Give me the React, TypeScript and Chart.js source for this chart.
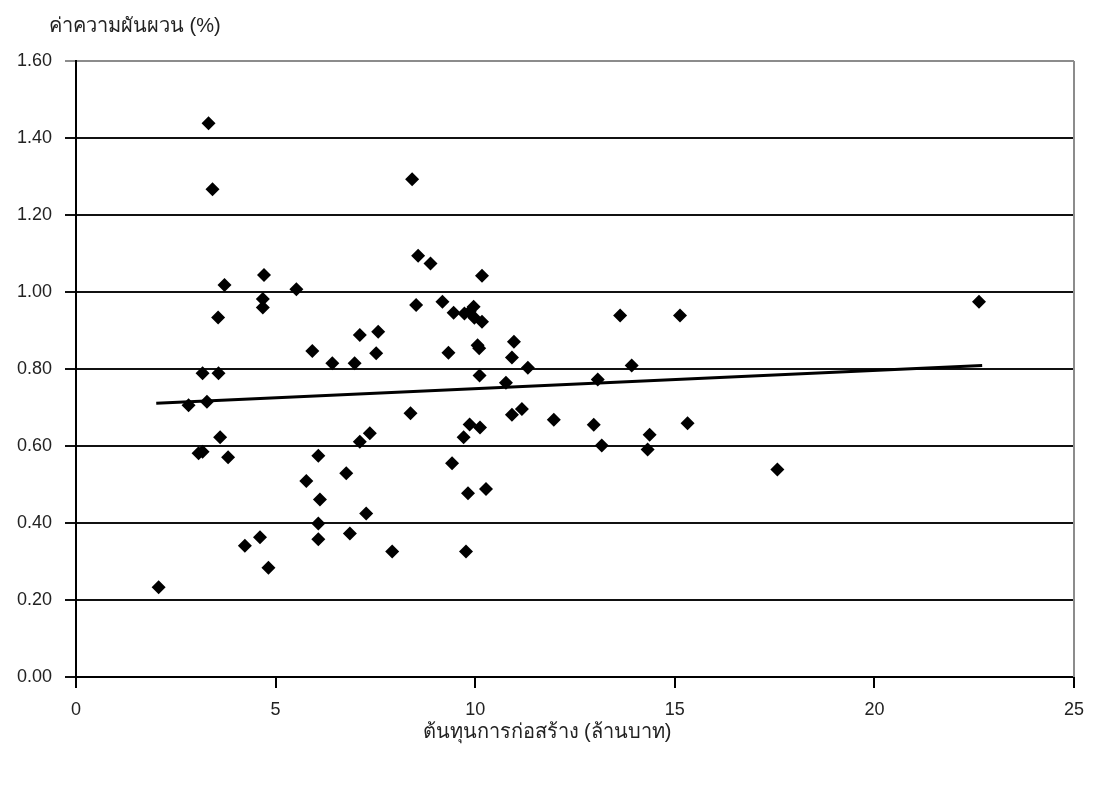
import React, { useEffect, useRef } from "react";
import { Chart, registerables } from "chart.js";

Chart.register(...registerables);

// Construction cost (million baht) for each project
const costMillionBaht: number[] = [
  2.07, 2.82, 3.07, 3.17, 3.17, 3.28, 3.32, 3.42, 3.56, 3.57,
  3.61, 3.72, 3.81, 4.23, 4.61, 4.68, 4.68, 4.71, 4.82, 5.52,
  5.77, 5.92, 6.07, 6.11, 6.07, 6.07, 6.42, 6.77, 6.86, 6.98,
  7.11, 7.11, 7.27, 7.36, 7.52, 7.57, 7.92, 8.38, 8.42, 8.52,
  8.57, 8.88, 9.18, 9.33, 9.42, 9.46, 9.71, 9.77, 9.73, 9.82,
  9.86, 9.86, 9.96, 9.98, 10.06, 10.1, 10.11, 10.12, 10.17, 10.17,
  10.27, 10.77, 10.92, 10.92, 10.97, 11.17, 11.32, 11.97, 12.97, 13.07,
  13.17, 13.63, 13.92, 14.32, 14.37, 15.13, 15.32, 17.57, 22.62,
];

// Measured variability (%) for the same projects
const variabilityPct: number[] = [
  0.233, 0.706, 0.581, 0.585, 0.789, 0.715, 1.438, 1.267, 0.934, 0.789,
  0.623, 1.018, 0.571, 0.341, 0.363, 0.982, 0.960, 1.044, 0.284, 1.007,
  0.509, 0.847, 0.575, 0.461, 0.399, 0.358, 0.815, 0.529, 0.373, 0.815,
  0.888, 0.611, 0.425, 0.633, 0.841, 0.897, 0.326, 0.685, 1.293, 0.966,
  1.094, 1.074, 0.975, 0.842, 0.555, 0.946, 0.623, 0.326, 0.944, 0.477,
  0.949, 0.656, 0.962, 0.933, 0.862, 0.854, 0.783, 0.648, 0.923, 1.042,
  0.488, 0.764, 0.830, 0.681, 0.871, 0.696, 0.803, 0.668, 0.655, 0.773,
  0.601, 0.939, 0.809, 0.591, 0.629, 0.939, 0.659, 0.539, 0.975,
];

// Linear trend line end points
const trendX: number[] = [2.01, 22.7];
const trendY: number[] = [0.711, 0.809];

const yTicks: number[] = [0, 0.2, 0.4, 0.6, 0.8, 1.0, 1.2, 1.4, 1.6];
const xTicks: number[] = [0, 5, 10, 15, 20, 25];

const yTitle = "ค่าความผันผวน (%)";
const xTitle = "ต้นทุนการก่อสร้าง (ล้านบาท)";

const FONT = "'Liberation Sans', 'DejaVu Sans', 'Noto Sans', sans-serif";

const titlesPlugin = {
  id: "axisTitles",
  afterDraw(chart: any) {
    const { ctx, chartArea } = chart;
    ctx.save();
    // plot-area frame on the right side
    ctx.strokeStyle = "#8c8c8c";
    ctx.lineWidth = 2;
    ctx.beginPath();
    ctx.moveTo(chartArea.right, chartArea.top);
    ctx.lineTo(chartArea.right, chartArea.bottom);
    ctx.stroke();

    ctx.fillStyle = "#222";
    ctx.font = `20px ${FONT}`;
    ctx.textBaseline = "middle";
    ctx.textAlign = "left";
    ctx.fillText(yTitle, 49, 26);
    ctx.textAlign = "center";
    ctx.fillText(xTitle, 547, 732);
    ctx.restore();
  },
};

export default function App() {
  const canvasRef = useRef<HTMLCanvasElement | null>(null);

  useEffect(() => {
    if (!canvasRef.current) return;
    const points = costMillionBaht.map((x, i) => ({ x, y: variabilityPct[i] }));
    const trend = trendX.map((x, i) => ({ x, y: trendY[i] }));

    const chart = new Chart(canvasRef.current, {
      type: "scatter",
      data: {
        datasets: [
          {
            type: "line",
            data: trend,
            borderColor: "#000",
            borderWidth: 3,
            pointRadius: 0,
            fill: false,
            order: 0,
          } as any,
          {
            data: points,
            pointStyle: "rectRot",
            pointRadius: 7,
            backgroundColor: "#000",
            borderColor: "#000",
            borderWidth: 0,
            order: 1,
          },
        ],
      },
      options: {
        animation: false,
        responsive: false,
        layout: { padding: { left: 0, right: 22, top: 61, bottom: 0 } },
        plugins: {
          legend: { display: false },
          tooltip: { enabled: false },
        },
        scales: {
          x: {
            type: "linear",
            min: 0,
            max: 25,
            afterFit: (s: any) => {
              s.height = 110;
            },
            afterBuildTicks: (s: any) => {
              s.ticks = xTicks.map((v) => ({ value: v }));
            },
            ticks: {
              color: "#222",
              font: { family: FONT, size: 18 },
              padding: 11,
              maxRotation: 0,
              callback: (v: any) => String(v),
            },
            grid: {
              drawOnChartArea: false,
              drawTicks: true,
              tickLength: 11,
              color: "#000",
              lineWidth: 2,
            },
            border: { display: true, color: "#000", width: 2 },
          },
          y: {
            type: "linear",
            min: 0,
            max: 1.6,
            afterFit: (s: any) => {
              s.width = 76;
            },
            afterBuildTicks: (s: any) => {
              s.ticks = yTicks.map((v) => ({ value: v }));
            },
            ticks: {
              color: "#222",
              font: { family: FONT, size: 18 },
              padding: 13,
              callback: (v: any) => Number(v).toFixed(2),
            },
            grid: {
              drawTicks: true,
              tickLength: 11,
              color: (c: any) => (c.tick && c.tick.value >= 1.6 ? "#8c8c8c" : "#111"),
              lineWidth: 2,
            },
            border: { display: true, color: "#000", width: 2 },
          },
        },
      },
      plugins: [titlesPlugin],
    });

    return () => chart.destroy();
  }, []);

  return (
    <div style={{ position: "absolute", left: 0, top: 0, width: 1096, height: 787, background: "#fff" }}>
      <canvas ref={canvasRef} width={1096} height={787} />
    </div>
  );
}
